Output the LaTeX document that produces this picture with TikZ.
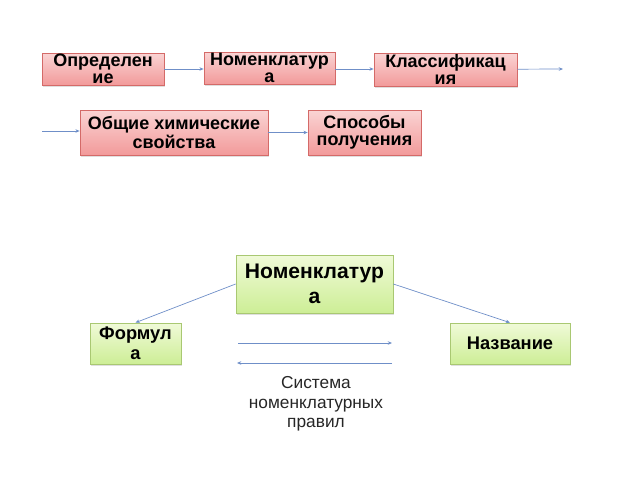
\documentclass[tikz,border=0pt]{standalone}
\usepackage{fontspec}
\setmainfont{Liberation Sans}
\usetikzlibrary{arrows.meta,shadows}

\definecolor{pinktop}{HTML}{FAD4D4}
\definecolor{pinkbot}{HTML}{F29A9A}
\definecolor{pinkline}{HTML}{D46A68}
\definecolor{greentop}{HTML}{F0FAD8}
\definecolor{greenbot}{HTML}{CDEE96}
\definecolor{greenline}{HTML}{A9C872}
\definecolor{arrowblue}{HTML}{6F8FC8}

\tikzset{
  pinkbox/.style={draw=pinkline, line width=0.5pt, top color=pinktop, bottom color=pinkbot,
    inner sep=0pt, align=center, font=\bfseries\fontsize{12.8}{12}\selectfont,
    drop shadow={opacity=0.25, shadow xshift=1pt, shadow yshift=-1.2pt}},
  greenbox/.style={draw=greenline, line width=0.5pt, top color=greentop, bottom color=greenbot,
    inner sep=0pt, align=center,
    drop shadow={opacity=0.25, shadow xshift=1pt, shadow yshift=-1.2pt}},
  link/.style={draw=arrowblue, line width=0.5pt, -{Stealth[length=3pt,width=2.5pt]}}
}

\begin{document}
\begin{tikzpicture}[x=0.025cm, y=-0.025cm]
  \useasboundingbox (0,0) rectangle (640,480);
  % top chain
  \node[pinkbox, minimum width=122*0.025cm, minimum height=32*0.025cm] (def) at (103,69) {Определен\\ие};
  \node[pinkbox, minimum width=131*0.025cm, minimum height=32*0.025cm] (nom) at (269.5,68) {Номенклатур\\а};
  \node[pinkbox, minimum width=143*0.025cm, minimum height=33*0.025cm] (cls) at (445.5,69.5) {Классификац\\ия};
  \node[pinkbox, minimum width=188*0.025cm, minimum height=45*0.025cm] (chem) at (174,132.5) {Общие химические\\свойства};
  \node[pinkbox, minimum width=113*0.025cm, minimum height=45*0.025cm] (prep) at (364.5,132.5) {Способы\\получения};
  \coordinate (clsout) at (563,69);
  \coordinate (chemin) at (42,131);
  \draw[link] (def) -- (def -| nom.west);
  \draw[link] (nom.east |- def) -- (nom.east |- def -| cls.west);
  \draw[link] (cls) -- (clsout) ;
  \draw[link] (chemin) -- (chemin -| chem.west);
  \draw[link] (chem) -- (prep);
  % nomenclature scheme
  \node[greenbox, minimum width=157*0.025cm, minimum height=58*0.025cm,
    font=\bfseries\fontsize{15}{18}\selectfont] (nomen) at (314.5,284) {Номенклатур\\а};
  \node[greenbox, minimum width=91*0.025cm, minimum height=41*0.025cm,
    font=\bfseries\fontsize{13}{14.5}\selectfont] (form) at (135.5,343.5) {Формул\\а};
  \node[greenbox, minimum width=120*0.025cm, minimum height=41*0.025cm,
    font=\bfseries\fontsize{13}{15}\selectfont] (name) at (510,343.5) {Название};
  \node[align=center, text=black!85, font=\fontsize{12.3}{14}\selectfont] (rules) at (316,404) {Система\\номенклатурных\\правил};
  \draw[link] (nomen.west) -- (form.north);
  \draw[link] (nomen.east) -- (name.north);
  \coordinate (fwd1) at (238,343);
  \coordinate (fwd2) at (392,343);
  \coordinate (back1) at (392,363);
  \coordinate (back2) at (237,363);
  \draw[link] (fwd1) -- (fwd2);
  \draw[link] (back1) -- (back2);
\end{tikzpicture}
\end{document}
